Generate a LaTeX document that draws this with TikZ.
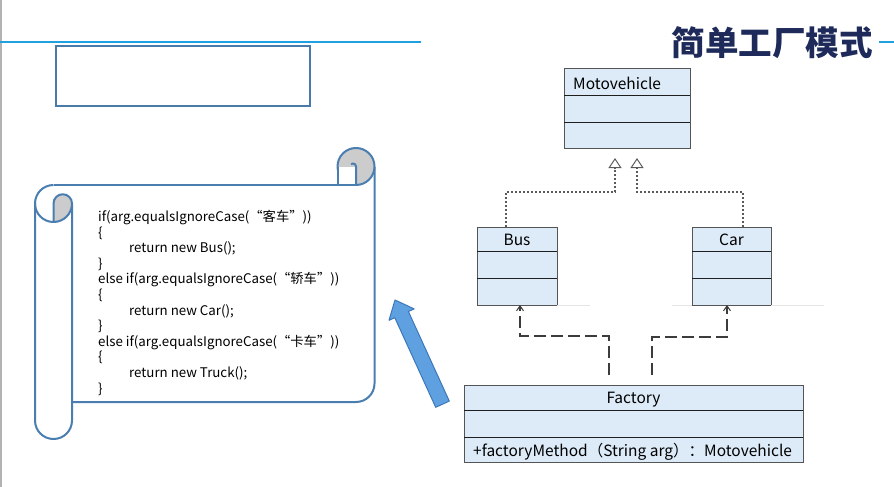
\documentclass[tikz,border=0pt]{standalone}
\usepackage{fontspec}
\setmainfont{Noto Sans CJK SC}
\usetikzlibrary{arrows.meta,calc}
\definecolor{titlenavy}{RGB}{30,42,90}
\definecolor{topblue}{RGB}{30,160,225}
\definecolor{boxblue}{RGB}{72,122,170}
\definecolor{scrollblue}{RGB}{74,126,177}
\definecolor{curlgray}{RGB}{204,204,204}
\definecolor{umlfill}{RGB}{221,235,248}
\definecolor{umlborder}{RGB}{85,85,85}
\definecolor{umlline}{RGB}{30,30,30}
\definecolor{realgray}{RGB}{90,90,90}
\definecolor{depgray}{RGB}{60,60,60}
\definecolor{arrowfill}{RGB}{95,160,225}
\definecolor{arrowdraw}{RGB}{60,120,185}
\tikzset{
  topline/.style={draw=topblue, line width=2pt},
  scroll/.style={draw=scrollblue, line width=2pt, line join=round},
  classbox/.style={draw=umlborder, fill=umlfill, line width=1pt, inner sep=0pt, outer sep=0pt},
  compline/.style={draw=umlline, line width=0.9pt},
  umltext/.style={font=\fontsize{15.5}{16}\selectfont, inner sep=0pt},
  realline/.style={draw=realgray, line width=1.3pt, dash pattern=on 2pt off 2pt, -{Triangle[open, length=10pt, width=13pt, line width=1pt]}},
  depline/.style={draw=depgray, line width=1.3pt, dash pattern=on 12pt off 5pt, -{Straight Barb[length=5pt, width=7pt, line width=1pt]}},
}
\begin{document}
\begin{tikzpicture}[x=1pt, y=-1pt]
\useasboundingbox (0,0) rectangle (894,487);
\fill[white] (0,0) rectangle (894,487);
% frame lines
\draw[gray!60, line width=1.5pt] (0.75,0) -- (0.75,487);
\draw[topline] (0,42) -- (421,42);
\draw[topline] (879,42) -- (894,42);
\node[font=\fontsize{33.5}{34}\selectfont\bfseries, text=titlenavy, inner sep=0pt] (title) at (772,43) {简单工厂模式};
% empty box
\node[draw=boxblue, line width=2pt, minimum width=254pt, minimum height=60pt, inner sep=0pt, outer sep=0pt] (emptybox) at (183,76) {};
% scroll
\draw[scroll] (53.5,185) -- (356,185);
\draw[scroll] (374.5,166.5) -- (374.5,383.5) arc[start angle=0, end angle=-90, radius=18.5pt] -- (72,402);
\draw[scroll] (72,203.5) -- (72,420.5) arc[start angle=0, end angle=-180, radius=18.5pt] -- (35,203.5) arc[start angle=180, end angle=90, radius=18.5pt];
\draw[scroll] (35,203.5) arc[start angle=180, end angle=270, radius=18.5pt];
\filldraw[scroll, fill=curlgray] (53.5,222) -- (53.5,203.5) arc[start angle=180, end angle=0, radius=9.25pt] arc[start angle=0, end angle=-90, radius=18.5pt] -- cycle;
\filldraw[scroll, fill=curlgray] (356,166.5) circle[radius=18.5pt];
\fill[white] (337.5,166.5) rectangle (356,184);
\draw[scroll] (337.5,166.5) -- (337.5,185);
\draw[scroll] (356,185) -- (356,166.5) arc[start angle=0, end angle=130, radius=3pt];
% code
\node[anchor=north west, align=left, inner sep=0pt, font=\fontsize{13.3}{15.6}\selectfont] (code) at (98,210) {%
if(arg.equalsIgnoreCase(“客车”))\\
\{\\
\hspace*{31pt}return new Bus();\\
\}\\
else if(arg.equalsIgnoreCase(“轿车”))\\
\{\\
\hspace*{31pt}return new Car();\\
\}\\
else if(arg.equalsIgnoreCase(“卡车”))\\
\{\\
\hspace*{31pt}return new Truck();\\
\}};
% blue block arrow
\filldraw[fill=arrowfill, draw=arrowdraw, line width=1pt, line join=round] (449.3,401.1) -- (408.4,311.5) -- (414.2,308.9) -- (395,300) -- (389.0,320.3) -- (394.8,317.7) -- (435.7,407.3) -- cycle;
% UML classes
\node[classbox, minimum width=126pt, minimum height=79pt] (moto) at (627,108.5) {};
\draw[compline] ($(moto.north west)+(0,26)$) -- ($(moto.north east)+(0,26)$);
\draw[compline] ($(moto.north west)+(0,53)$) -- ($(moto.north east)+(0,53)$);
\node[umltext, anchor=west] (motoname) at ($(moto.north west)+(9,14)$) {Motovehicle};

\node[classbox, minimum width=80pt, minimum height=78pt] (bus) at (517,266) {};
\draw[compline] ($(bus.north west)+(0,24)$) -- ($(bus.north east)+(0,24)$);
\draw[compline] ($(bus.north west)+(0,51)$) -- ($(bus.north east)+(0,51)$);
\node[umltext] (busname) at ($(bus.north)+(0,13)$) {Bus};

\node[classbox, minimum width=79pt, minimum height=78pt] (car) at (731.5,266) {};
\draw[compline] ($(car.north west)+(0,24)$) -- ($(car.north east)+(0,24)$);
\draw[compline] ($(car.north west)+(0,51)$) -- ($(car.north east)+(0,51)$);
\node[umltext] (carname) at ($(car.north)+(0,13)$) {Car};

\node[classbox, minimum width=339pt, minimum height=77pt] (fac) at (633.5,423.5) {};
\draw[compline] ($(fac.north west)+(0,25)$) -- ($(fac.north east)+(0,25)$);
\draw[compline] ($(fac.north west)+(0,52)$) -- ($(fac.north east)+(0,52)$);
\node[umltext] (facname) at ($(fac.north)+(0,15)$) {Factory};
\node[umltext, anchor=west] (facmethod) at ($(fac.north west)+(9,66.5)$) {+factoryMethod（String arg）：Motovehicle};

% faint baseline traces
\draw[gray!20, line width=0.8pt] (bus.south east) -- ++(33,0);
\draw[gray!20, line width=0.8pt] ($(car.south west)+(-20,0)$) -- (car.south west);
\draw[gray!20, line width=0.8pt] (car.south east) -- ++(53,0);

% realization connectors
\coordinate (g1) at ($(moto.south)+(-12,10)$);
\coordinate (g2) at ($(moto.south)+(10,10)$);
\draw[realline] ($(bus.north)+(-11,0)$) |- ($(g1)+(0,34)$) -- (g1);
\draw[realline] ($(car.north)+(11.5,0)$) |- ($(g2)+(0,34)$) -- (g2);

% dependency connectors
\coordinate (d1) at ($(fac.north)+(-24.5,-10)$);
\coordinate (d2) at ($(fac.north)+(18.5,-10)$);
\draw[depline] (d1) |- ($(bus.south)+(3,31)$) -- ($(bus.south)+(3,0)$);
\draw[depline] (d2) |- ($(car.south)+(-4.5,32)$) -- ($(car.south)+(-4.5,0)$);
\end{tikzpicture}
\end{document}
